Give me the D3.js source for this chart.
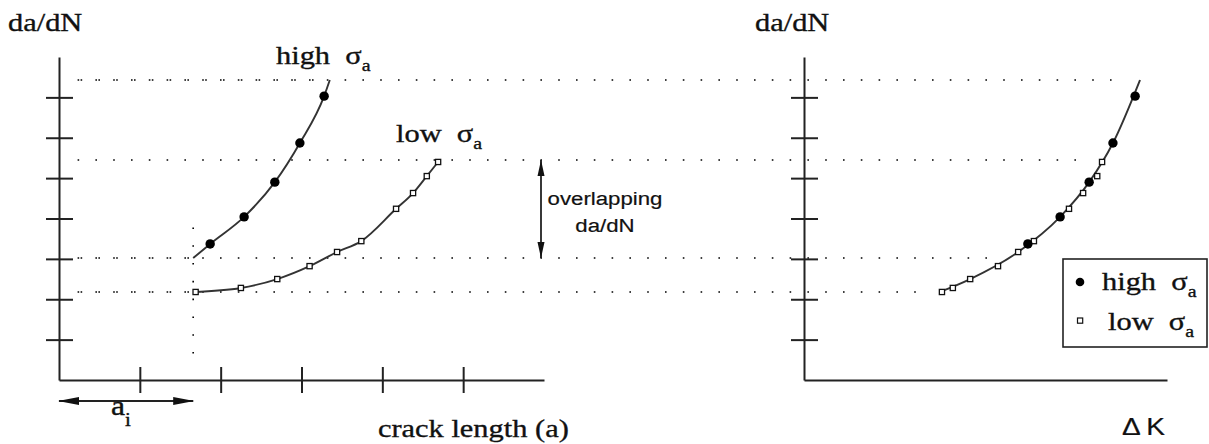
<!DOCTYPE html>
<html>
<head>
<meta charset="utf-8">
<script src="https://cdn.jsdelivr.net/npm/d3@7/dist/d3.min.js"></script>
<style>
  body { margin: 0; background: #fff; }
  svg { display: block; }
</style>
</head>
<body>
<div id="chart"></div>
<script>
// values (da/dN in tick units, a and dK in tick units)
var yTicks = [1, 2, 3, 4, 5, 6, 7];
var aTicks = [1, 2, 3, 4, 5];

var highRate = [3.37, 4.04, 4.90, 5.87, 7.03];
var highCrack = [1.87, 2.29, 2.67, 2.98, 3.28];
var highDK = [5.55, 6.35, 7.07, 7.66, 8.21];

var lowRate = [2.18, 2.28, 2.50, 2.82, 3.17, 3.44, 4.24, 4.63, 5.05, 5.40];
var lowCrack = [1.69, 2.25, 2.70, 3.10, 3.44, 3.74, 4.17, 4.38, 4.55, 4.69];
var lowDK = [3.42, 3.69, 4.12, 4.81, 5.31, 5.70, 6.57, 6.92, 7.27, 7.39];

// curve ends (crack length, rate)
var highStart = [1.66, 3.02], highEnd = [3.35, 7.43];
var lowStart = [1.66, 2.18], lowEnd = [4.71, 5.45];
// right-hand master curve (dK, rate)
var masterDK = [3.37, 4.12, 5.31, 6.35, 7.07, 7.66, 8.33];
var masterRate = [2.18, 2.50, 3.17, 4.04, 4.90, 5.87, 7.43];

// dotted reference levels
var refLevels = [7.43, 5.45, 3.02, 2.18];
var refEndDK = [7.79, 6.92, 4.66, 2.83];
var refPairEnd = [3.35, null, 1.66, 1.66];
var ai = 1.66;

var W = 1209, H = 444;
var sx = 1.17; // text is a little wide in the picture

var svg = d3.select('#chart').append('svg')
    .attr('width', W)
    .attr('height', H);

var y = d3.scaleLinear().domain([0, 8]).range([380, 57]);
var xA = d3.scaleLinear().domain([0, 6]).range([59, 544]);
var xK = d3.scaleLinear().domain([0, 9]).range([804, 1167]);

var ink = '#222';

// dotted lines
var dots = svg.append('g')
    .attr('stroke', '#000')
    .attr('stroke-width', 1.6)
    .attr('stroke-dasharray', '1.6,16.2');

refLevels.forEach(function(v, i) {
    dots.append('line')
        .attr('x1', xA(0.23)).attr('x2', xK(refEndDK[i]))
        .attr('y1', y(v)).attr('y2', y(v));
    if (refPairEnd[i] !== null) {
        dots.append('line')
            .attr('x1', xA(0.23) + 3).attr('x2', xA(refPairEnd[i]))
            .attr('y1', y(v)).attr('y2', y(v));
    }
});
dots.append('line')
    .attr('x1', xA(ai)).attr('x2', xA(ai))
    .attr('y1', y(3.78)).attr('y2', y(0.55));

// axes
function styleAxis(g) {
    g.select('.domain').attr('stroke', ink).attr('stroke-width', 2);
    g.selectAll('.tick line').attr('stroke', ink).attr('stroke-width', 2);
}

[xA(0), xK(0)].forEach(function(x0) {
    var g = svg.append('g')
        .attr('transform', 'translate(' + x0 + ',0)')
        .call(d3.axisLeft(y).tickValues(yTicks).tickSize(13).tickSizeOuter(0).tickFormat(''));
    g.selectAll('.tick line').attr('x2', 14).attr('x1', -13);
    styleAxis(g);
});

var gxA = svg.append('g')
    .attr('transform', 'translate(0,' + y(0) + ')')
    .call(d3.axisBottom(xA).tickValues(aTicks).tickSize(13).tickSizeOuter(0).tickFormat(''));
gxA.selectAll('.tick line').attr('y1', -13).attr('y2', 13);
styleAxis(gxA);

var gxK = svg.append('g')
    .attr('transform', 'translate(0,' + y(0) + ')')
    .call(d3.axisBottom(xK).tickValues([]).tickSizeOuter(0));
styleAxis(gxK);

// curves
var curve = d3.line()
    .x(function(d) { return d[0]; })
    .y(function(d) { return d[1]; })
    .curve(d3.curveMonotoneX);

function pts(xs, ys, scale) {
    return xs.map(function(v, i) { return [scale(v), y(ys[i])]; });
}

var highPath = [[xA(highStart[0]), y(highStart[1])]]
    .concat(pts(highCrack, highRate, xA))
    .concat([[xA(highEnd[0]), y(highEnd[1])]]);
var lowPath = [[xA(lowStart[0]), y(lowStart[1])]]
    .concat(pts(lowCrack.slice(1), lowRate.slice(1), xA))
    .concat([[xA(lowEnd[0]), y(lowEnd[1])]]);
var masterPath = pts(masterDK, masterRate, xK);

[highPath, lowPath, masterPath].forEach(function(p) {
    svg.append('path')
        .attr('d', curve(p))
        .attr('fill', 'none')
        .attr('stroke', '#333')
        .attr('stroke-width', 1.9);
});

// markers
function squares(xs, scale) {
    svg.append('g').selectAll('rect')
        .data(xs)
        .enter()
        .append('rect')
            .attr('x', function(d) { return scale(d) - 2.6; })
            .attr('y', function(d, i) { return y(lowRate[i]) - 2.6; })
            .attr('width', 5.2)
            .attr('height', 5.2)
            .attr('fill', '#fff')
            .attr('stroke', '#111')
            .attr('stroke-width', 1.3);
}
function circles(xs, scale) {
    svg.append('g').selectAll('circle')
        .data(xs)
        .enter()
        .append('circle')
            .attr('cx', function(d) { return scale(d); })
            .attr('cy', function(d, i) { return y(highRate[i]); })
            .attr('r', 4.7)
            .attr('fill', '#000');
}
circles(highCrack, xA);
squares(lowCrack, xA);
squares(lowDK, xK);
circles(highDK, xK);

// text helper: parts = [[string, isSub], ...]
function label(x, yy, parts, o) {
    o = o || {};
    var t = svg.append('text')
        .attr('transform', 'translate(' + x + ',' + yy + ') scale(' + sx + ',1)')
        .attr('font-family', o.family || '"Liberation Serif", "Times New Roman", serif')
        .attr('font-size', o.size || 26)
        .attr('text-anchor', o.anchor || 'start')
        .attr('fill', '#111')
        .attr('stroke', '#111')
        .attr('stroke-width', o.weight || 0.35);
    var down = false;
    parts.forEach(function(p) {
        var s = t.append('tspan').text(p[0]);
        if (p[1] && !down) { s.attr('font-size', o.sub || 17).attr('dy', o.subDy || 7); down = true; }
        else if (!p[1] && down) { s.attr('dy', -(o.subDy || 7)); down = false; }
    });
    return t;
}

label(8, 31, [['da/dN']]);
label(755, 31, [['da/dN']]);
label(276, 64, [['high\u2002\u03c3'], ['a', true]]);
label(396, 142, [['low\u2002\u03c3'], ['a', true]]);
label(378, 437, [['crack length (a)']]);
label(111, 415, [['a'], ['i', true]], {size: 27, sub: 18, subDy: 11});

var sans = '"Liberation Sans", Arial, sans-serif';
label(605, 205, [['overlapping']], {family: sans, size: 19, anchor: 'middle', weight: 0.2});
label(605, 232, [['da/dN']], {family: sans, size: 19, anchor: 'middle', weight: 0.2});
label(1122, 435, [['\u0394\u2009K']], {family: sans, size: 24, weight: 0.2});

// a_i arrow
function arrowHead(x, yy, dir, len, half) {
    svg.append('path')
        .attr('d', 'M' + x + ',' + yy + 'L' + (x - dir * len) + ',' + (yy - half) +
            'L' + (x - dir * len) + ',' + (yy + half) + 'Z')
        .attr('fill', '#111');
}
var ay = 401;
svg.append('line')
    .attr('x1', xA(0)).attr('x2', xA(ai))
    .attr('y1', ay).attr('y2', ay)
    .attr('stroke', ink).attr('stroke-width', 1.8);
arrowHead(xA(0) - 1, ay, -1, 21, 4);
arrowHead(xA(ai) + 1, ay, 1, 21, 4);

// overlapping arrow
var ox = 541;
svg.append('line')
    .attr('x1', ox).attr('x2', ox)
    .attr('y1', y(refLevels[1])).attr('y2', y(refLevels[2]))
    .attr('stroke', ink).attr('stroke-width', 1.8);
svg.append('path')
    .attr('d', 'M' + ox + ',' + y(refLevels[1]) + 'l-3.5,16l7,0Z')
    .attr('fill', '#111');
svg.append('path')
    .attr('d', 'M' + ox + ',' + y(refLevels[2]) + 'l-3.5,-16l7,0Z')
    .attr('fill', '#111');

// legend
var lg = svg.append('g');
lg.append('rect')
    .attr('x', 1063).attr('y', 259)
    .attr('width', 144).attr('height', 88)
    .attr('fill', '#fff')
    .attr('stroke', ink)
    .attr('stroke-width', 1.6);
lg.append('circle').attr('cx', 1080).attr('cy', 282).attr('r', 4.3).attr('fill', '#000');
lg.append('rect').attr('x', 1077.5).attr('y', 318).attr('width', 5.2).attr('height', 5.2)
    .attr('fill', '#fff').attr('stroke', '#111').attr('stroke-width', 1.2);
label(1102, 290, [['high\u2002\u03c3'], ['a', true]]);
label(1108, 330, [['low\u2002\u03c3'], ['a', true]]);
</script>
</body>
</html>
